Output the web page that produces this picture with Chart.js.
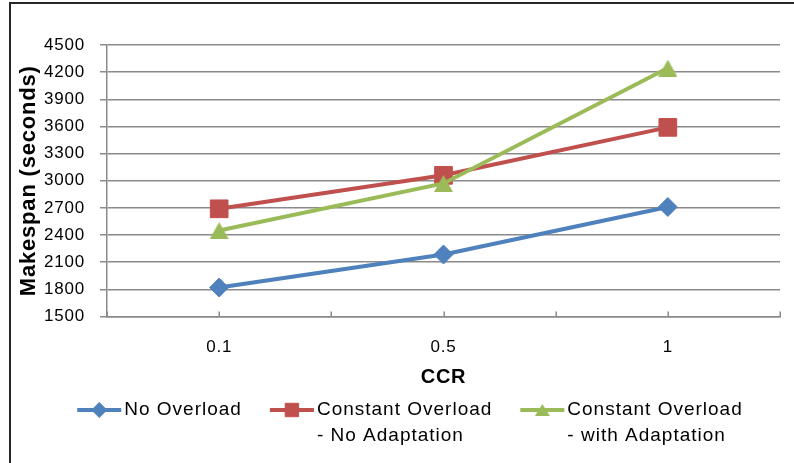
<!DOCTYPE html>
<html>
<head>
<meta charset="utf-8">
<script src="https://cdn.jsdelivr.net/npm/chart.js@4.4.1/dist/chart.umd.min.js"></script>
<style>
  html, body { margin: 0; padding: 0; background: #fff; }
  canvas { display: block; }
</style>
</head>
<body>
<canvas id="chart" width="794" height="463"></canvas>
<script>
// CCR categories and makespan (seconds) per scenario
const categories = ['0.1', '0.5', '1'];
const noOverload = [1820, 2185, 2710];
const overloadNoAdapt = [2690, 3060, 3590];
const overloadWithAdapt = [2450, 2970, 4245];
const yTickValues = [1500, 1800, 2100, 2400, 2700, 3000, 3300, 3600, 3900, 4200, 4500];
const seriesNames = [
  ['No Overload'],
  ['Constant Overload', '- No Adaptation'],
  ['Constant Overload', '- with Adaptation']
];

const FONT = '"Liberation Sans", Arial, sans-serif';
const GRID = '#8a8a8a';
const TRACKING = '0.8px';
const GREEN = '#9BBB59';

// x ticks sit on each category and halfway between them
const xTickValues = [];
categories.forEach((c, i) => { xTickValues.push(i - 0.5, i); });
xTickValues.push(categories.length - 0.5);

const toPoints = arr => arr.map((v, i) => ({ x: i, y: v }));

// triangle marker centred in its own box (point sits at the box centre)
function triangleImage(w, h, color) {
  const c = document.createElement('canvas');
  c.width = w; c.height = h;
  const g = c.getContext('2d');
  g.fillStyle = color;
  g.beginPath();
  g.moveTo(w / 2, 0);
  g.lineTo(w, h);
  g.lineTo(0, h);
  g.closePath();
  g.fill();
  return c;
}
const triMarker = triangleImage(19, 17, GREEN);
const triLegend = triangleImage(15, 12, GREEN);

// white page, outer frame and a slightly wider text tracking
const framePlugin = {
  id: 'frame',
  beforeLayout(chart) { chart.ctx.letterSpacing = TRACKING; },
  beforeDraw(chart) {
    const ctx = chart.ctx;
    ctx.save();
    ctx.fillStyle = '#fff';
    ctx.fillRect(0, 0, chart.width, chart.height);
    ctx.strokeStyle = '#262626';
    ctx.lineWidth = 2;
    ctx.beginPath();
    ctx.moveTo(10, chart.height);
    ctx.lineTo(10, 3);
    ctx.lineTo(chart.width, 3);
    ctx.stroke();
    ctx.restore();
    ctx.letterSpacing = TRACKING;
  }
};

// short tick marks pointing up from the category axis
const xTickMarks = {
  id: 'xTickMarks',
  beforeDatasetsDraw(chart) {
    const ctx = chart.ctx, xs = chart.scales.x, bottom = chart.chartArea.bottom;
    ctx.save();
    ctx.strokeStyle = GRID;
    ctx.lineWidth = 1.5;
    ctx.beginPath();
    xs.ticks.forEach(t => {
      const px = Math.round(xs.getPixelForValue(t.value)) + 0.25;
      ctx.moveTo(px, bottom - 5);
      ctx.lineTo(px, bottom);
    });
    ctx.stroke();
    ctx.restore();
  }
};

function marker(ctx, style, radius, x, y, color) {
  if (style instanceof HTMLCanvasElement) {
    ctx.drawImage(triLegend, x - triLegend.width / 2, y - triLegend.height / 2);
    return;
  }
  ctx.fillStyle = color;
  ctx.strokeStyle = color;
  ctx.lineWidth = 1;
  if (Chart.helpers && Chart.helpers.drawPoint) {
    Chart.helpers.drawPoint(ctx, { pointStyle: style, rotation: 0, radius: radius, borderWidth: 1 }, x, y);
    return;
  }
  ctx.beginPath();
  if (style === 'rectRot') {
    ctx.moveTo(x - radius, y); ctx.lineTo(x, y - radius); ctx.lineTo(x + radius, y); ctx.lineTo(x, y + radius);
  } else {
    const s = radius * Math.SQRT1_2;
    ctx.rect(x - s, y - s, 2 * s, 2 * s);
  }
  ctx.closePath();
  ctx.fill();
  ctx.stroke();
}

// legend row below the axis: line sample with marker, then the (multi-line) name
const legendRow = {
  id: 'legendRow',
  afterDraw(chart) {
    const ctx = chart.ctx;
    ctx.save();
    ctx.font = '19px ' + FONT;
    ctx.letterSpacing = '1px';
    ctx.textBaseline = 'middle';
    ctx.textAlign = 'left';
    const sample = 44, textGap = 3, itemGap = 28, lineH = 26, rowY = 410;
    const legendRadius = [7.5, 9.5, 9];
    const items = chart.data.datasets.map((ds, i) => {
      const lines = seriesNames[i];
      const tw = Math.max(...lines.map(t => ctx.measureText(t).width));
      return { ds, lines, r: legendRadius[i], w: sample + textGap + tw };
    });
    const total = items.reduce((s, it) => s + it.w, 0) + itemGap * (items.length - 1);
    let x = 410 - total / 2;
    items.forEach(it => {
      const c = it.ds.borderColor;
      ctx.strokeStyle = c;
      ctx.lineWidth = 4;
      ctx.beginPath();
      ctx.moveTo(x, rowY);
      ctx.lineTo(x + sample, rowY);
      ctx.stroke();
      marker(ctx, it.ds.pointStyle, it.r, x + sample / 2, rowY, c);
      ctx.fillStyle = '#000';
      it.lines.forEach((t, k) => ctx.fillText(t, x + sample + textGap, rowY + k * lineH));
      x += it.w + itemGap;
    });
    ctx.restore();
  }
};

const series = [
  { name: seriesNames[0].join(' '), values: noOverload, color: '#4F81BD', style: 'rectRot', radius: 9.5, order: 3 },
  { name: seriesNames[1].join(' '), values: overloadNoAdapt, color: '#C0504D', style: 'rect', radius: 12.5, order: 2 },
  { name: seriesNames[2].join(' '), values: overloadWithAdapt, color: GREEN, style: triMarker, radius: 10, order: 1 }
];

new Chart(document.getElementById('chart'), {
  type: 'line',
  data: {
    datasets: series.map(s => ({
      label: s.name,
      data: toPoints(s.values),
      borderColor: s.color,
      backgroundColor: s.color,
      borderWidth: 4,
      tension: 0,
      pointStyle: s.style,
      pointRadius: s.radius,
      pointBorderWidth: 1,
      pointBackgroundColor: s.color,
      pointBorderColor: s.color,
      order: s.order
    }))
  },
  options: {
    responsive: false,
    animation: false,
    events: [],
    layout: { padding: { top: 45, right: 14, bottom: 71.5, left: 0 } },
    plugins: { legend: { display: false }, tooltip: { enabled: false } },
    scales: {
      x: {
        type: 'linear',
        min: -0.5,
        max: categories.length - 0.5,
        afterFit(s) { s.height = 75; s.paddingLeft = 0; s.paddingRight = 0; },
        afterBuildTicks(s) { s.ticks = xTickValues.map(v => ({ value: v })); },
        ticks: {
          autoSkip: false,
          maxRotation: 0,
          padding: 21,
          color: '#000',
          font: { family: FONT, size: 17 },
          callback: v => Number.isInteger(v) ? categories[v] : ''
        },
        grid: { drawOnChartArea: false, drawTicks: false },
        border: { color: GRID, width: 1.5 },
        title: {
          display: true,
          text: 'CCR',
          color: '#000',
          font: { family: FONT, size: 20, weight: 'bold' },
          padding: { top: 0, bottom: 2.5 }
        }
      },
      y: {
        min: 1500,
        max: 4500,
        afterFit(s) { s.width = 107; s.paddingTop = 0; s.paddingBottom = 0; },
        afterBuildTicks(s) { s.ticks = yTickValues.map(v => ({ value: v })); },
        ticks: {
          padding: 15,
          color: '#000',
          font: { family: FONT, size: 17 },
          callback: v => String(v)
        },
        grid: { color: GRID, lineWidth: 1.5, tickLength: 7 },
        border: { color: GRID, width: 1.5 },
        title: {
          display: true,
          text: 'Makespan (seconds)',
          color: '#000',
          font: { family: FONT, size: 22, weight: 'bold' },
          padding: { top: 16, bottom: 0 }
        }
      }
    }
  },
  plugins: [framePlugin, xTickMarks, legendRow]
});
</script>
</body>
</html>
